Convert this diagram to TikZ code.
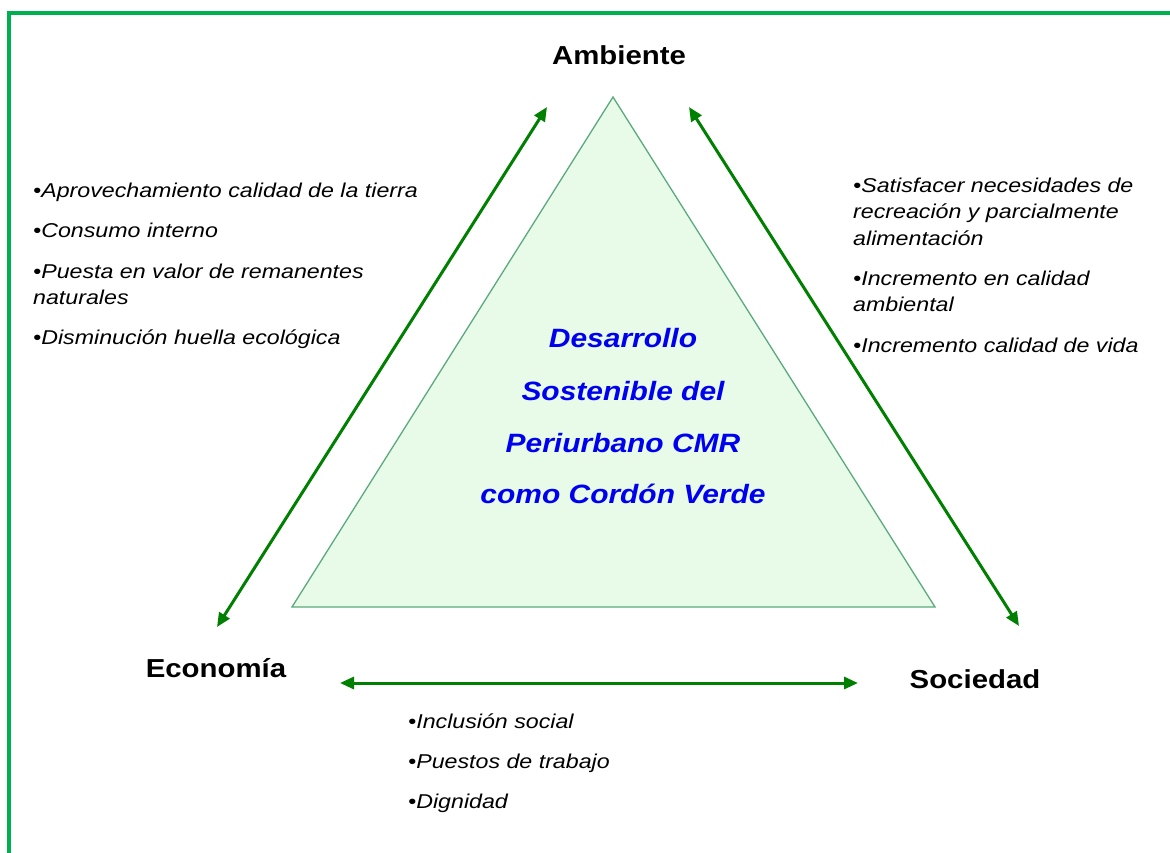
\documentclass[tikz,border=0pt]{standalone}
\usepackage{fontspec}
\usepackage{graphicx}
\setmainfont{Liberation Sans}
\usetikzlibrary{arrows.meta}
\definecolor{frame}{RGB}{0,176,80}
\definecolor{arrg}{RGB}{0,128,0}
\definecolor{trifill}{RGB}{232,251,232}
\definecolor{tridraw}{RGB}{90,170,125}
\definecolor{ctblue}{RGB}{0,0,240}
\newcommand\wx[1]{\scalebox{1.16}[1]{#1}}
\newcommand\wh[1]{\scalebox{1.13}[1]{#1}}
\tikzset{
  bl/.style={anchor=base west, inner sep=0pt, font=\fontsize{20}{24}\selectfont\itshape},
  hd/.style={anchor=base, inner sep=0pt, font=\fontsize{26}{30}\selectfont\bfseries},
  ct/.style={anchor=base, inner sep=0pt, text=ctblue, font=\fontsize{26.5}{30}\selectfont\bfseries\itshape},
  arr/.style={draw=arrg, line width=3pt, {Triangle[length=14pt,width=12pt]}-{Triangle[length=14pt,width=12pt]}},
}
\begin{document}
\begin{tikzpicture}[x=1pt,y=-1pt]
\clip (0,0) rectangle (1170,852);
\fill[white] (0,0) rectangle (1170,852);
\draw[frame, line width=4pt] (9,13) rectangle (1190,880);
% triangle
\coordinate (ta) at (613,97);
\coordinate (tl) at (292,607);
\coordinate (tr) at (935,607);
\filldraw[fill=trifill, draw=tridraw, line width=1.3pt, line join=miter] (ta) -- (tr) -- (tl) -- cycle;
% arrows
\coordinate (a1) at (547,107);
\coordinate (a2) at (217,627);
\coordinate (b1) at (689,107);
\coordinate (b2) at (1019,626);
\coordinate (c1) at (340,683);
\coordinate (c2) at (858,683);
\draw[arr] (a2) -- (a1);
\draw[arr] (b1) -- (b2);
\draw[arr] (c1) -- (c2);
% headings
\node[hd] (amb) at (619,64) {\wh{Ambiente}};
\node[hd] (eco) at (216,677) {\wh{Economía}};
\node[hd] (soc) at (975,688) {\wh{Sociedad}};
% centre
\node[ct] (c1t) at (623,347) {\wh{Desarrollo}};
\node[ct] (c2t) at (623,400) {\wh{Sostenible del}};
\node[ct] (c3t) at (623,452) {\wh{Periurbano CMR}};
\node[ct] (c4t) at (623,503) {\wh{como Cordón Verde}};
% left bullets
\node[bl] (l1) at (33,197) {\wx{•Aprovechamiento calidad de la tierra}};
\node[bl] (l2) at (33,237.5) {\wx{•Consumo interno}};
\node[bl] (l3) at (33,278) {\wx{•Puesta en valor de remanentes}};
\node[bl] (l4) at (33,304) {\wx{naturales}};
\node[bl] (l5) at (33,344.5) {\wx{•Disminución huella ecológica}};
% right bullets
\node[bl] (r1) at (853,192) {\wx{•Satisfacer necesidades de}};
\node[bl] (r2) at (853,218.5) {\wx{recreación y parcialmente}};
\node[bl] (r3) at (853,245) {\wx{alimentación}};
\node[bl] (r4) at (853,285) {\wx{•Incremento en calidad}};
\node[bl] (r5) at (853,311.5) {\wx{ambiental}};
\node[bl] (r6) at (853,352) {\wx{•Incremento calidad de vida}};
% bottom bullets
\node[bl] (d1) at (408,728.5) {\wx{•Inclusión social}};
\node[bl] (d2) at (408,768.5) {\wx{•Puestos de trabajo}};
\node[bl] (d3) at (408,808.5) {\wx{•Dignidad}};
\end{tikzpicture}
\end{document}
